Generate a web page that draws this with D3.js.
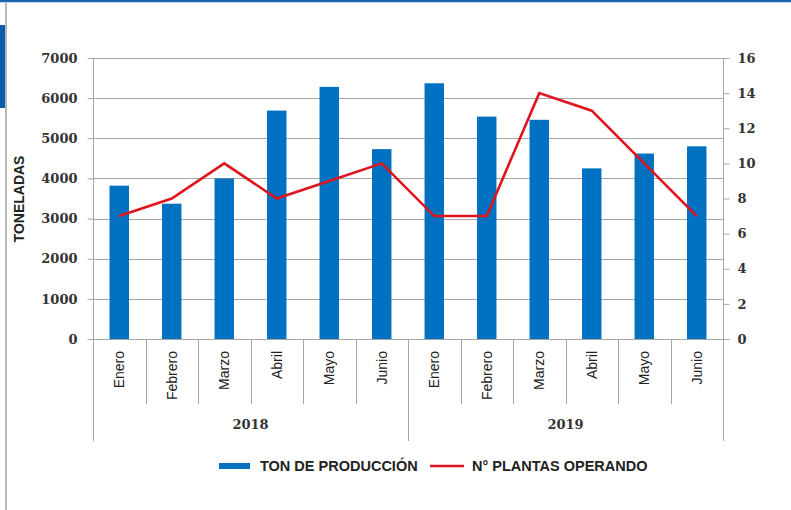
<!DOCTYPE html>
<html>
<head>
<meta charset="utf-8">
<script src="https://cdn.jsdelivr.net/npm/d3@7/dist/d3.min.js"></script>
<style>
  html, body { margin: 0; padding: 0; background: #fff; }
  svg { display: block; }
</style>
</head>
<body>
<svg id="chart" width="791" height="510"></svg>
<script>
// ---- data ----
const years = ["2018", "2019"];
const months = ["Enero", "Febrero", "Marzo", "Abril", "Mayo", "Junio"];
const toneladas = [3820, 3370, 4000, 5690, 6280, 4730, 6370, 5540, 5460, 4250, 4620, 4800];
const plantas = [7, 8, 10, 8, 9, 10, 7, 7, 14, 13, 10, 7];
const leftTicks = [0, 1000, 2000, 3000, 4000, 5000, 6000, 7000];
const rightTicks = [0, 2, 4, 6, 8, 10, 12, 14, 16];
const seriesNames = ["TON DE PRODUCCIÓN", "N° PLANTAS OPERANDO"];
const yTitle = "TONELADAS";

// ---- build rows ----
const rows = [];
years.forEach(y => months.forEach(m => rows.push({ year: y, month: m, key: y + "-" + m })));
rows.forEach((r, i) => { r.ton = toneladas[i]; r.pl = plantas[i]; });

const svg = d3.select("#chart");
const W = 791, H = 510;
const m = { left: 93, right: 68, top: 58, bottom: 171 };
const x0 = m.left, x1 = W - m.right, yTop = m.top, yBot = H - m.bottom;

// frame decorations
svg.append("rect").attr("x", 0).attr("y", 0).attr("width", W).attr("height", 2).attr("fill", "#1d63b0");
svg.append("rect").attr("x", 0).attr("y", 2).attr("width", W).attr("height", 1).attr("fill", "#c8d4e4");
svg.append("rect").attr("x", 5).attr("y", 3).attr("width", 2).attr("height", H - 3).attr("fill", "#b8b8b8");
svg.append("rect").attr("x", 0).attr("y", 25).attr("width", 5).attr("height", 83).attr("fill", "#0b5cab");

const x = d3.scaleBand().domain(rows.map(d => d.key)).range([x0, x1]).paddingInner(0.63).paddingOuter(0.315);
const xStep = d3.scaleBand().domain(rows.map(d => d.key)).range([x0, x1]).padding(0);
const yL = d3.scaleLinear().domain([0, 7000]).range([yBot, yTop]);
const yR = d3.scaleLinear().domain([0, 16]).range([yBot, yTop]);

const grid = "#a6a6a6";

// gridlines
svg.append("g").selectAll("line").data(leftTicks).join("line")
  .attr("x1", x0).attr("x2", x1)
  .attr("y1", d => Math.round(yL(d)) + 0.5).attr("y2", d => Math.round(yL(d)) + 0.5)
  .attr("stroke", grid).attr("stroke-width", 1);

// bars
svg.append("g").selectAll("rect").data(rows).join("rect")
  .attr("x", d => x(d.key)).attr("width", x.bandwidth())
  .attr("y", d => yL(d.ton)).attr("height", d => yL(0) - yL(d.ton))
  .attr("fill", "#0070c0");

// left axis
const axL = svg.append("g").attr("transform", `translate(${x0 + 0.5},0)`)
  .call(d3.axisLeft(yL).tickValues(leftTicks).tickFormat(d3.format("d")).tickSize(6).tickPadding(10));
axL.select(".domain").attr("stroke", grid).attr("d", `M-0,${yTop}V${yBot + 10}`);
axL.selectAll(".tick line").attr("stroke", grid);
axL.selectAll("text").attr("font-family", "DejaVu Serif").attr("font-weight", "bold")
  .attr("font-size", 13).attr("fill", "#333");

// right axis
const axR = svg.append("g").attr("transform", `translate(${x1 + 0.5},0)`)
  .call(d3.axisRight(yR).tickValues(rightTicks).tickSize(6).tickPadding(8));
axR.select(".domain").attr("stroke", grid).attr("d", `M0,${yTop}V${yBot + 10}`);
axR.selectAll(".tick line").attr("stroke", grid);
axR.selectAll("text").attr("font-family", "DejaVu Serif").attr("font-weight", "bold")
  .attr("font-size", 13).attr("fill", "#333");

// x axis baseline
svg.append("line").attr("x1", x0).attr("x2", x1).attr("y1", yBot + 0.5).attr("y2", yBot + 0.5)
  .attr("stroke", grid);

// month dividers
const divs = rows.map(d => xStep(d.key)).concat([x1]);
const groupIdx = new Set([0, months.length, rows.length]);
svg.append("g").selectAll("line").data(divs).join("line")
  .attr("x1", d => Math.round(d) + 0.5).attr("x2", d => Math.round(d) + 0.5)
  .attr("y1", yBot).attr("y2", (d, i) => groupIdx.has(i) ? 441 : 404)
  .attr("stroke", grid);

// month labels
svg.append("g").selectAll("text").data(rows).join("text")
  .attr("transform", d => `translate(${xStep(d.key) + xStep.bandwidth() / 2 + 5},${yBot + 12}) rotate(-90)`)
  .attr("text-anchor", "end")
  .attr("font-family", "Liberation Sans Narrow, Arial Narrow, Liberation Sans, Arial, sans-serif")
  .attr("font-size", 14).attr("fill", "#222")
  .text(d => d.month);

// year labels
svg.append("g").selectAll("text").data(years).join("text")
  .attr("x", (d, i) => {
    const a = xStep(rows[i * months.length].key);
    const b = i === years.length - 1 ? x1 : xStep(rows[(i + 1) * months.length].key);
    return (a + b) / 2;
  })
  .attr("y", 429)
  .attr("text-anchor", "middle")
  .attr("font-family", "DejaVu Serif").attr("font-weight", "bold")
  .attr("font-size", 13).attr("fill", "#333")
  .text(d => d);

// line
const line = d3.line().x(d => x(d.key) + x.bandwidth() / 2).y(d => yR(d.pl));
svg.append("path").datum(rows).attr("d", line)
  .attr("fill", "none").attr("stroke", "#e0141c").attr("stroke-width", 2.6)
  .attr("stroke-linejoin", "miter");

// y title
svg.append("text")
  .attr("transform", `translate(24,199) rotate(-90)`)
  .attr("text-anchor", "middle")
  .attr("font-family", "Liberation Sans Narrow, Arial Narrow, Liberation Sans, Arial, sans-serif")
  .attr("font-weight", "bold").attr("font-size", 14).attr("fill", "#222")
  .text(yTitle);

// legend
const lg = svg.append("g");
lg.append("rect").attr("x", 219).attr("y", 463).attr("width", 31).attr("height", 6).attr("fill", "#0070c0");
lg.append("text").attr("x", 260).attr("y", 471)
  .attr("font-family", "Liberation Sans, Arial, sans-serif").attr("font-weight", "bold")
  .attr("font-size", 14.5).attr("fill", "#222").text(seriesNames[0]);
lg.append("line").attr("x1", 430).attr("x2", 464).attr("y1", 466).attr("y2", 466)
  .attr("stroke", "#e0141c").attr("stroke-width", 2.6);
lg.append("text").attr("x", 472).attr("y", 471)
  .attr("font-family", "Liberation Sans, Arial, sans-serif").attr("font-weight", "bold")
  .attr("font-size", 14.5).attr("fill", "#222").text(seriesNames[1]);
</script>
</body>
</html>
